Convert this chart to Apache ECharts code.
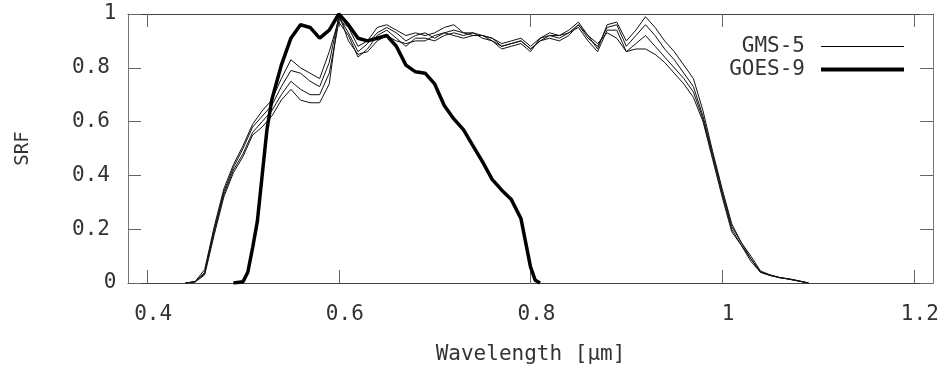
<!DOCTYPE html>
<html>
<head>
<meta charset="utf-8">
<script src="https://cdn.jsdelivr.net/npm/echarts@6/dist/echarts.min.js"></script>
<style>html,body{margin:0;padding:0;background:#fff}#c{width:943px;height:367px}</style>
</head>
<body>
<div id="c"></div>
<script>
// x ticks
const xTicks = [0.4, 0.6, 0.8, 1.0, 1.2];
const yTicks = [0, 0.2, 0.4, 0.6, 0.8, 1.0];

// GMS-5 (several detectors) wavelength grid [µm]
const gmsWave = [0.44,0.45,0.46,0.47,0.48,0.49,0.50,0.51,0.52,0.53,
  0.54,0.55,0.56,0.57,0.58,0.59,0.60,0.61,0.62,0.63,
  0.64,0.65,0.66,0.67,0.68,0.69,0.70,0.71,0.72,0.73,
  0.74,0.75,0.76,0.77,0.78,0.79,0.80,0.81,0.82,0.83,
  0.84,0.85,0.86,0.87,0.88,0.89,0.90,0.91,0.92,0.93,
  0.94,0.95,0.96,0.97,0.98,0.99,1.00,1.01,1.02,1.03,
  1.04,1.05,1.06,1.07,1.08,1.09];
const gms5A = [0,0.005,0.05,0.21,0.35,0.44,0.51,0.59,0.64,0.68,
  0.76,0.83,0.80,0.78,0.76,0.86,0.98,0.95,0.88,0.90,
  0.95,0.96,0.94,0.92,0.93,0.92,0.93,0.95,0.96,0.93,
  0.93,0.92,0.91,0.89,0.90,0.91,0.88,0.91,0.93,0.92,
  0.94,0.97,0.92,0.87,0.96,0.97,0.90,0.94,0.99,0.95,
  0.90,0.86,0.81,0.76,0.64,0.49,0.35,0.22,0.15,0.10,
  0.045,0.03,0.02,0.015,0.008,0];
const gms5B = [0,0.005,0.04,0.20,0.34,0.43,0.50,0.58,0.62,0.66,
  0.73,0.79,0.78,0.75,0.73,0.82,0.99,0.93,0.86,0.89,
  0.93,0.95,0.93,0.90,0.92,0.93,0.91,0.93,0.94,0.93,
  0.92,0.92,0.90,0.88,0.89,0.90,0.87,0.90,0.92,0.91,
  0.93,0.96,0.91,0.88,0.95,0.96,0.88,0.92,0.96,0.92,
  0.87,0.83,0.78,0.73,0.62,0.48,0.34,0.21,0.15,0.09,
  0.04,0.03,0.02,0.015,0.008,0];
const gms5C = [0,0.004,0.035,0.19,0.33,0.42,0.48,0.56,0.60,0.64,
  0.70,0.75,0.72,0.70,0.70,0.78,0.97,0.92,0.84,0.87,
  0.92,0.94,0.91,0.88,0.91,0.91,0.90,0.92,0.93,0.92,
  0.93,0.91,0.90,0.87,0.88,0.89,0.86,0.91,0.92,0.92,
  0.93,0.95,0.90,0.86,0.94,0.94,0.86,0.89,0.92,0.88,
  0.84,0.80,0.76,0.71,0.61,0.47,0.33,0.20,0.14,0.09,
  0.04,0.028,0.02,0.014,0.007,0];
const gms5D = [0,0.004,0.03,0.18,0.32,0.41,0.47,0.55,0.58,0.62,
  0.68,0.72,0.68,0.67,0.67,0.74,1.00,0.90,0.85,0.86,
  0.90,0.92,0.90,0.89,0.90,0.90,0.92,0.93,0.92,0.91,
  0.92,0.92,0.91,0.88,0.89,0.90,0.87,0.90,0.91,0.90,
  0.92,0.96,0.92,0.89,0.93,0.91,0.86,0.87,0.87,0.85,
  0.82,0.78,0.74,0.69,0.60,0.46,0.32,0.19,0.14,0.08,
  0.04,0.028,0.02,0.014,0.007,0];

// GOES-9
const goesWave = [0.49,0.50,0.505,0.51,0.515,0.52,0.525,0.53,0.54,0.55,
  0.56,0.57,0.58,0.59,0.60,0.61,0.62,0.63,0.64,0.65,
  0.66,0.67,0.68,0.69,0.70,0.71,0.72,0.73,0.74,0.75,
  0.76,0.77,0.78,0.79,0.795,0.80,0.805,0.81];
const goes9 = [0,0.005,0.04,0.13,0.23,0.40,0.57,0.68,0.81,0.91,
  0.96,0.95,0.91,0.94,1.00,0.96,0.91,0.90,0.91,0.92,
  0.88,0.81,0.785,0.78,0.74,0.66,0.61,0.57,0.51,0.45,
  0.385,0.345,0.31,0.24,0.15,0.06,0.01,0];

const zip = (xs, ys) => xs.map((x, i) => [x, ys[i]]);
const FONT = '"DejaVu Sans Mono", "Liberation Mono", monospace';
const TXT = '#333';

const chart = echarts.init(document.getElementById('c'), null, {renderer: 'canvas'});
const thin = (d) => ({
  name: 'GMS-5', type: 'line', data: d, showSymbol: false, symbol: 'none',
  lineStyle: {color: '#111', width: 1}, itemStyle: {color: '#111'},
  xAxisIndex: 0, yAxisIndex: 0, animation: false, z: 2
});
chart.setOption({
  animation: false,
  backgroundColor: '#fff',
  grid: {left: 128, top: 14, right: 10, bottom: 84, containLabel: false, outerBoundsMode: 'none'},
  legend: {
    right: 34, top: 31, orient: 'vertical', align: 'right',
    itemWidth: 83, itemHeight: 14, itemGap: 2,
    textStyle: {fontFamily: FONT, fontSize: 21, color: TXT, padding: [0, 11, 0, 0]},
    data: [
      {name: 'GMS-5', icon: 'path://M0,0 L100,0 L100,1.5 L0,1.5 Z'},
      {name: 'GOES-9', icon: 'path://M0,0 L100,0 L100,5 L0,5 Z'}
    ],
    itemStyle: {color: '#000'}
  },
  xAxis: [{
    type: 'value', min: 0.38, max: 1.22, position: 'bottom',
    name: 'Wavelength [µm]', nameLocation: 'middle', nameGap: 61,
    nameTextStyle: {fontFamily: FONT, fontSize: 21, color: TXT},
    axisLine: {show: true, onZero: false, lineStyle: {color: '#444', width: 1}},
    axisTick: {show: true, inside: true, length: 13, customValues: xTicks, lineStyle: {color: '#666'}},
    axisLabel: {show: true, customValues: xTicks, margin: 21, fontFamily: FONT, fontSize: 21, color: TXT, padding: [0, 0, 0, 12]},
    splitLine: {show: false}
  }, {
    type: 'value', min: 0.38, max: 1.22, position: 'top',
    axisLine: {show: true, onZero: false, lineStyle: {color: '#444', width: 1}},
    axisTick: {show: true, inside: true, length: 13, customValues: xTicks, lineStyle: {color: '#666'}},
    axisLabel: {show: false},
    splitLine: {show: false}
  }],
  yAxis: [{
    type: 'value', min: 0, max: 1, interval: 0.2, position: 'left',
    name: 'SRF', nameLocation: 'middle', nameGap: 95,
    nameTextStyle: {fontFamily: FONT, fontSize: 19, color: TXT},
    axisLine: {show: true, onZero: false, lineStyle: {color: '#777', width: 1}},
    axisTick: {show: true, inside: true, length: 13, lineStyle: {color: '#666'}},
    axisLabel: {show: true, margin: 18, fontFamily: FONT, fontSize: 21, color: TXT,
      customValues: yTicks, alignMinLabel: 'middle', alignMaxLabel: 'middle', padding: [8, 0, 0, 0]},
    splitLine: {show: false}
  }, {
    type: 'value', min: 0, max: 1, interval: 0.2, position: 'right',
    axisLine: {show: true, onZero: false, lineStyle: {color: '#777', width: 1}},
    axisTick: {show: true, inside: true, length: 13, lineStyle: {color: '#666'}},
    axisLabel: {show: false},
    splitLine: {show: false}
  }],
  series: [
    thin(zip(gmsWave, gms5A)),
    thin(zip(gmsWave, gms5B)),
    thin(zip(gmsWave, gms5C)),
    thin(zip(gmsWave, gms5D)),
    {
      name: 'GOES-9', type: 'line', data: zip(goesWave, goes9), showSymbol: false, symbol: 'none',
      lineStyle: {color: '#000', width: 3.5}, itemStyle: {color: '#000'},
      xAxisIndex: 0, yAxisIndex: 0, z: 3
    }
  ]
});
</script>
</body>
</html>
